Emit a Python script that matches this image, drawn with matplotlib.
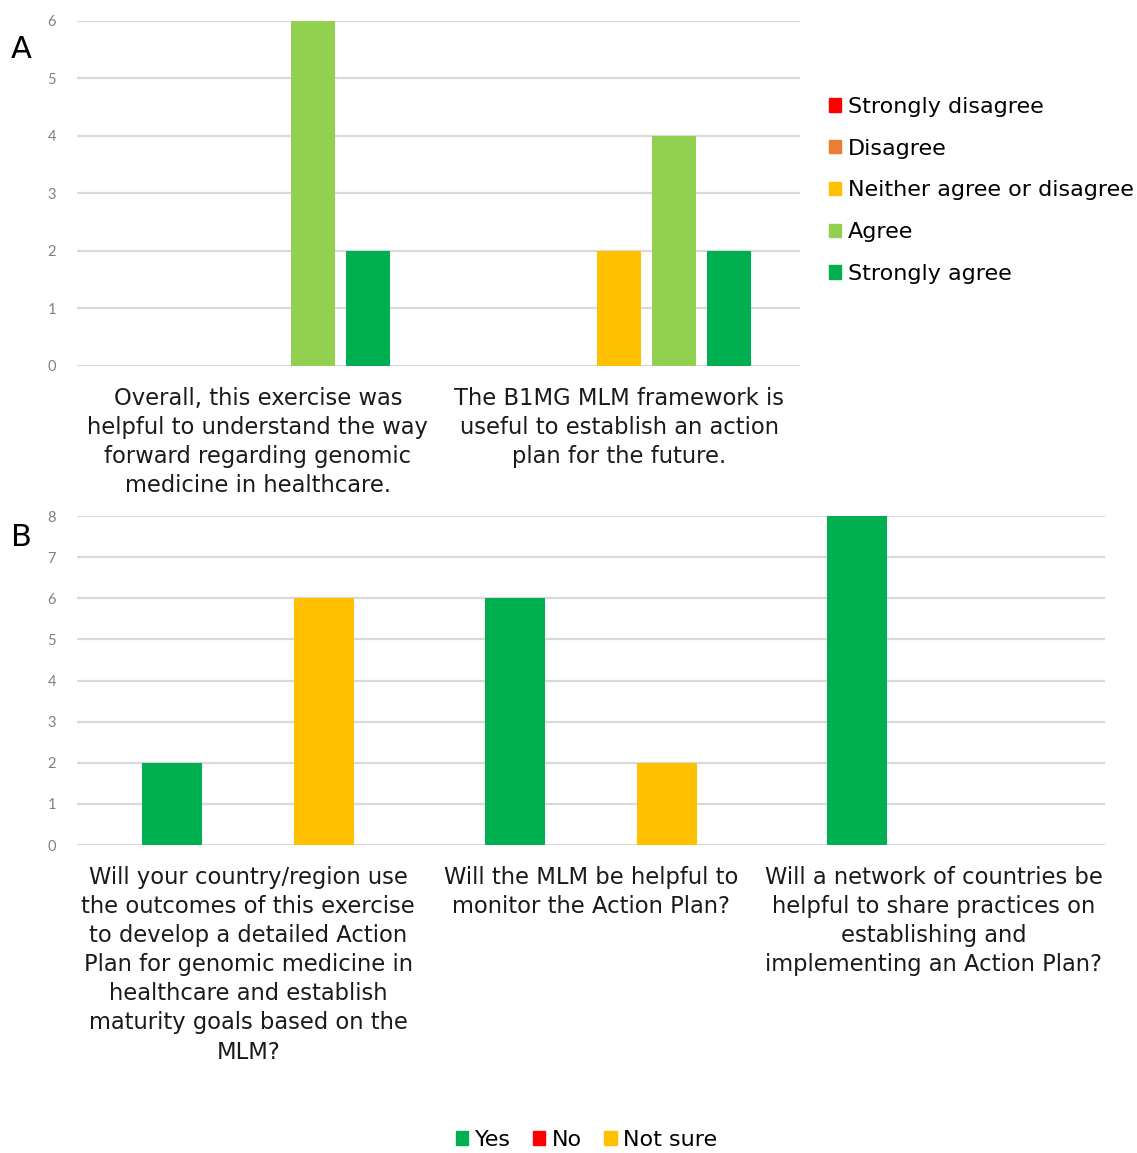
import matplotlib
matplotlib.use("Agg")
import matplotlib.pyplot as plt
from matplotlib.patches import Patch
import numpy as np

# Panel A: agreement with two statements
a_categories = [
    "Overall, this exercise was\nhelpful to understand the way\nforward regarding genomic\nmedicine in healthcare.",
    "The B1MG MLM framework is\nuseful to establish an action\nplan for the future.",
]
a_series = ["Strongly disagree", "Disagree", "Neither agree or disagree", "Agree", "Strongly agree"]
a_colors = ["#FF0000", "#ED7D31", "#FFC000", "#92D050", "#00B050"]
a_values = {
    "Strongly disagree": [0, 0],
    "Disagree": [0, 0],
    "Neither agree or disagree": [0, 2],
    "Agree": [6, 4],
    "Strongly agree": [2, 2],
}

# Panel B: yes / no / not sure answers
b_categories = [
    "Will your country/region use\nthe outcomes of this exercise\nto develop a detailed Action\nPlan for genomic medicine in\nhealthcare and establish\nmaturity goals based on the\nMLM?",
    "Will the MLM be helpful to\nmonitor the Action Plan?",
    "Will a network of countries be\nhelpful to share practices on\nestablishing and\nimplementing an Action Plan?",
]
b_series = ["Yes", "No", "Not sure"]
b_colors = ["#00B050", "#FF0000", "#FFC000"]
b_values = {
    "Yes": [2, 6, 8],
    "No": [0, 0, 0],
    "Not sure": [6, 2, 0],
}

LABEL_FONT = "DejaVu Sans"
TICK_FONT = "Lato"
GRID = "#D9D9D9"
FS = 16.3
LEG_FS = 16

fig = plt.figure(figsize=(11.37, 11.53), dpi=100)


def style_axes(ax, ymax):
    ax.set_ylim(0, ymax)
    ax.set_yticks(range(0, ymax + 1))
    ax.yaxis.grid(True, color=GRID, linewidth=1.6)
    ax.set_axisbelow(True)
    for s in ax.spines.values():
        s.set_visible(False)
    ax.tick_params(axis="y", length=0, pad=15, labelcolor="#808080", labelsize=10.5)
    ax.tick_params(axis="x", length=0, pad=15)
    for t in ax.get_yticklabels():
        t.set_fontfamily(TICK_FONT)


# ---- Panel A ----
axA = fig.add_axes([0.0677, 0.6826, 0.636, 0.2992])
xa = np.arange(len(a_categories))
step_a = 0.152
width_a = 0.122
for i, name in enumerate(a_series):
    axA.bar(xa + (i - 2) * step_a, a_values[name], width=width_a,
            color=a_colors[i], label=name, zorder=3)
axA.set_xlim(-0.5, len(a_categories) - 0.5)
style_axes(axA, 6)
axA.set_xticks(xa)
axA.set_xticklabels(a_categories, fontsize=FS, family=LABEL_FONT,
                    color="#1a1a1a", linespacing=1.34, va="top")
axA.legend(handles=[Patch(color=c, label=n) for n, c in zip(a_series, a_colors)],
           loc="upper left", bbox_to_anchor=(1.04, 0.78), frameon=False,
           prop={"family": LABEL_FONT, "size": LEG_FS}, handlelength=0.55,
           handleheight=0.55, handletextpad=0.3, labelspacing=0.98,
           borderaxespad=0, borderpad=0)

# ---- Panel B ----
axB = fig.add_axes([0.0677, 0.2671, 0.904, 0.2853])
xb = np.arange(len(b_categories))
step_b = 0.222
width_b = 0.175
for i, name in enumerate(b_series):
    axB.bar(xb + (i - 1) * step_b, b_values[name], width=width_b,
            color=b_colors[i], label=name, zorder=3)
axB.set_xlim(-0.5, len(b_categories) - 0.5)
style_axes(axB, 8)
axB.set_xticks(xb)
axB.set_xticklabels(b_categories, fontsize=FS, family=LABEL_FONT,
                    color="#1a1a1a", linespacing=1.34, va="top")
fig.legend(handles=[Patch(color=c, label=n) for n, c in zip(b_series, b_colors)],
           loc="center", bbox_to_anchor=(0.516, 1 - 1140 / 1153), ncol=3,
           frameon=False, prop={"family": LABEL_FONT, "size": LEG_FS},
           handlelength=0.55, handleheight=0.55, handletextpad=0.3,
           columnspacing=1.0, borderpad=0, borderaxespad=0)

# Panel letters
fig.text(21 / 1137, 1 - 50 / 1153, "A", fontsize=22, family=LABEL_FONT, va="center", ha="center")
fig.text(21 / 1137, 1 - 537 / 1153, "B", fontsize=22, family=LABEL_FONT, va="center", ha="center")

fig.savefig("out.png", dpi=100, facecolor="white")
